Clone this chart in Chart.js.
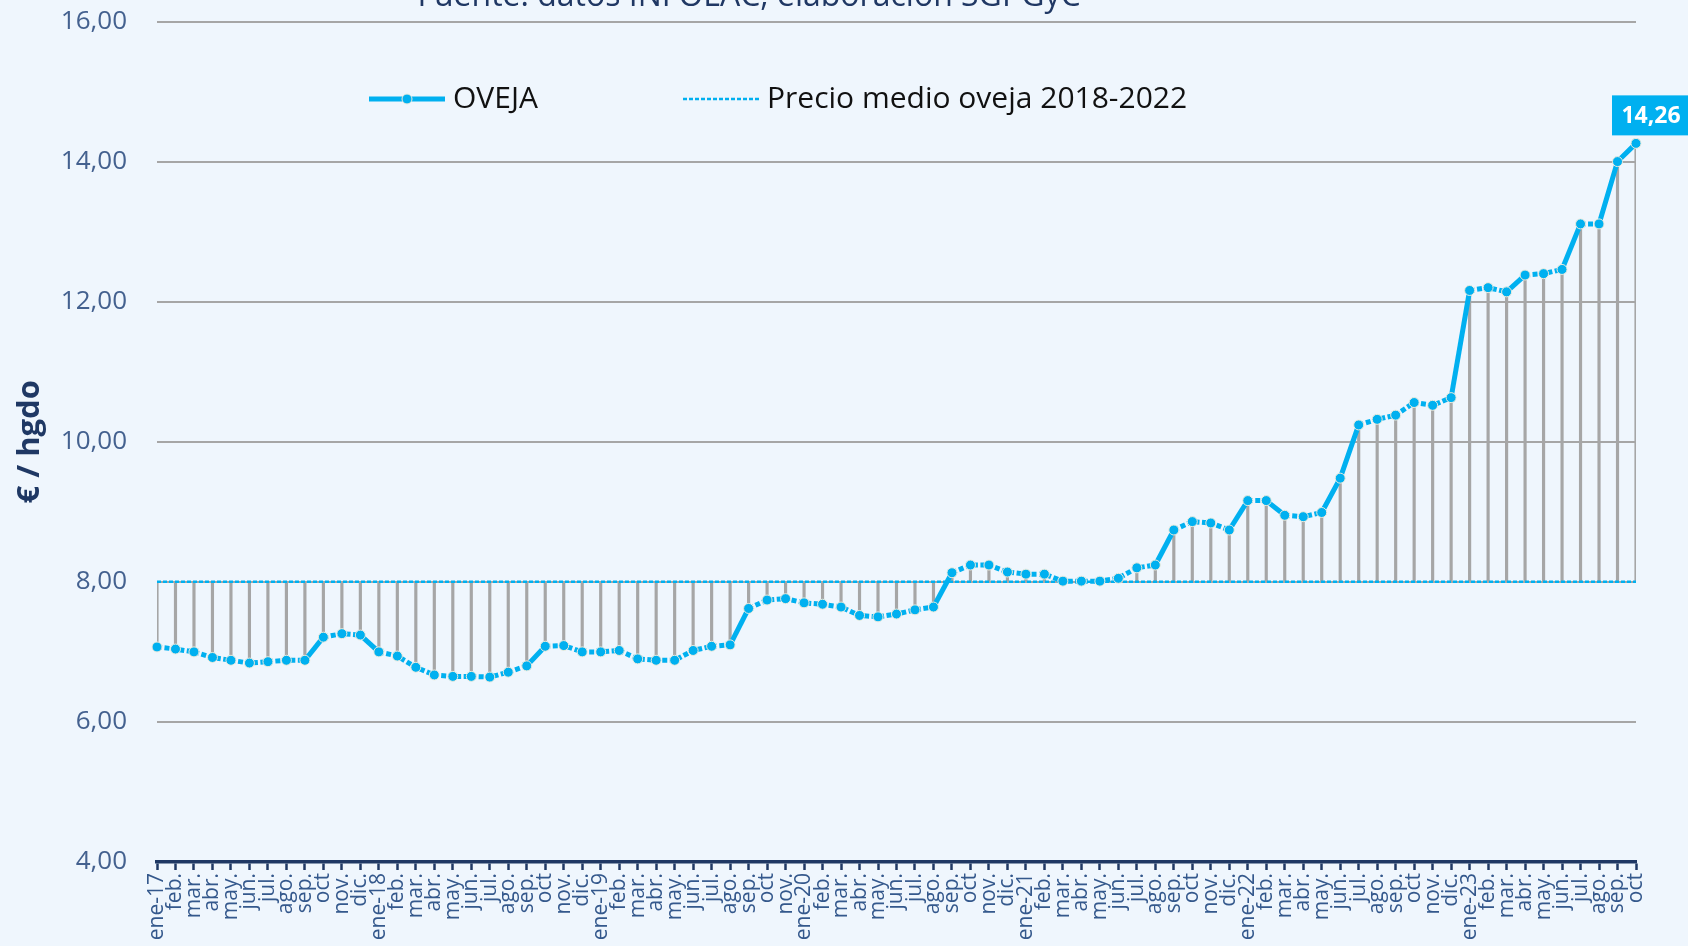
<!DOCTYPE html>
<html>
<head>
<meta charset="utf-8">
<script src="https://cdn.jsdelivr.net/npm/chart.js@4.4.1/dist/chart.umd.min.js"></script>
<style>
  html, body { margin: 0; padding: 0; background: #EFF6FD; }
  canvas { display: block; }
</style>
</head>
<body>
<canvas id="myChart" width="1688" height="946"></canvas>
<script>
// meses ene-17 .. oct-23 (dic-19 no aparece en el original)
var meses = [
    "ene-17", "feb.", "mar.", "abr.", "may.", "jun.", "jul.", "ago.", "sep.", "oct", "nov.", "dic.",
    "ene-18", "feb.", "mar.", "abr.", "may.", "jun.", "jul.", "ago.", "sep.", "oct", "nov.", "dic.",
    "ene-19", "feb.", "mar.", "abr.", "may.", "jun.", "jul.", "ago.", "sep.", "oct", "nov.",
    "ene-20", "feb.", "mar.", "abr.", "may.", "jun.", "jul.", "ago.", "sep.", "oct", "nov.", "dic.",
    "ene-21", "feb.", "mar.", "abr.", "may.", "jun.", "jul.", "ago.", "sep.", "oct", "nov.", "dic.",
    "ene-22", "feb.", "mar.", "abr.", "may.", "jun.", "jul.", "ago.", "sep.", "oct", "nov.", "dic.",
    "ene-23", "feb.", "mar.", "abr.", "may.", "jun.", "jul.", "ago.", "sep.", "oct"
];

var oveja = [
    7.07, 7.04, 7.00, 6.92, 6.88, 6.84, 6.86, 6.88, 6.88, 7.21, 7.26, 7.24,
    7.00, 6.94, 6.78, 6.67, 6.65, 6.65, 6.64, 6.71, 6.80, 7.08, 7.09, 7.00,
    7.00, 7.02, 6.90, 6.88, 6.88, 7.02, 7.08, 7.10, 7.62, 7.74, 7.76,
    7.70, 7.68, 7.64, 7.52, 7.50, 7.54, 7.60, 7.64, 8.13, 8.24, 8.24, 8.14,
    8.11, 8.11, 8.01, 8.01, 8.01, 8.05, 8.20, 8.24, 8.74, 8.86, 8.84, 8.74,
    9.16, 9.16, 8.95, 8.93, 8.99, 9.48, 10.24, 10.32, 10.38, 10.56, 10.52, 10.63,
    12.16, 12.20, 12.14, 12.38, 12.40, 12.46, 13.11, 13.11, 14.00, 14.26
];

var precioMedio = 8.00;   // precio medio oveja 2018-2022
var yTicks = [4, 6, 8, 10, 12, 14, 16];

var azul = "#00B0F0";
var gris = "#A6A6A6";
var navy = "#1F3864";

var media = meses.map(() => precioMedio);
var barras = oveja.map((v, i) => [media[i], v]);

function fmt(v) {
    return v.toFixed(2).replace(".", ",");
}

// texto de cabecera, leyenda y etiqueta del último valor
var extras = {
    id: "extras",
    afterDraw(chart) {
        const ctx = chart.ctx;
        ctx.save();

        ctx.fillStyle = "#203864";
        ctx.font = "32px 'Open Sans'";
        ctx.textAlign = "center";
        ctx.textBaseline = "alphabetic";
        ctx.fillText("Fuente: datos INFOLAC, elaboración SGPGyC", 749, 6);

        // leyenda
        const ly = 99;
        ctx.strokeStyle = azul;
        ctx.lineWidth = 5;
        ctx.beginPath();
        ctx.moveTo(369, ly);
        ctx.lineTo(445, ly);
        ctx.stroke();
        ctx.beginPath();
        ctx.arc(407, ly, 5, 0, Math.PI * 2);
        ctx.fillStyle = azul;
        ctx.fill();
        ctx.lineWidth = 1;
        ctx.strokeStyle = "#EDEBDC";
        ctx.stroke();

        ctx.strokeStyle = azul;
        ctx.lineWidth = 2.5;
        ctx.setLineDash([4, 2]);
        ctx.beginPath();
        ctx.moveTo(683, ly);
        ctx.lineTo(759, ly);
        ctx.stroke();
        ctx.setLineDash([]);

        ctx.fillStyle = "#111111";
        ctx.font = "30px 'Open Sans'";
        ctx.textAlign = "left";
        ctx.textBaseline = "middle";
        ctx.fillText("OVEJA", 453, ly);
        ctx.fillText("Precio medio oveja 2018-2022", 767, ly);

        // último valor
        const meta = chart.getDatasetMeta(0);
        const p = meta.data[meta.data.length - 1];
        const bx = p.x - 24, by = p.y - 48;
        ctx.fillStyle = azul;
        ctx.fillRect(bx, by, 80, 40);
        ctx.fillStyle = "#FFFFFF";
        ctx.font = "bold 23px 'Open Sans'";
        ctx.textAlign = "center";
        ctx.fillText(fmt(oveja[oveja.length - 1]), bx + 39, by + 21);

        ctx.restore();
    }
};

Chart.defaults.font.family = "'Open Sans', sans-serif";

new Chart("myChart", {
    type: "bar",
    data: {
        labels: meses,
        datasets: [{
            type: "line",
            label: "OVEJA",
            data: oveja,
            borderColor: azul,
            borderWidth: 5,
            borderCapStyle: "butt",
            tension: 0,
            pointRadius: 5,
            pointBackgroundColor: azul,
            pointBorderColor: "#EDEBDC",
            pointBorderWidth: 1,
            segment: {
                borderDash: c => Math.abs(c.p1.parsed.y - c.p0.parsed.y) > 0.2 ? [] : [5, 2.5]
            },
            order: 1
        }, {
            type: "line",
            label: "Precio medio oveja 2018-2022",
            data: media,
            borderColor: azul,
            borderWidth: 2.5,
            borderDash: [4, 2],
            pointRadius: 0,
            order: 2
        }, {
            label: "stems",
            data: barras,
            backgroundColor: gris,
            barThickness: 2.5,
            order: 3
        }]
    },
    options: {
        responsive: false,
        animation: false,
        layout: {
            padding: { top: 21.5, right: 52, bottom: 0, left: 0 }
        },
        plugins: {
            legend: { display: false },
            tooltip: { enabled: false }
        },
        scales: {
            x: {
                offset: false,
                grid: {
                    offset: false,
                    drawOnChartArea: false,
                    drawTicks: true,
                    tickLength: 8,
                    tickColor: navy,
                    tickWidth: 2.5
                },
                border: { display: true, color: navy, width: 3.5 },
                ticks: {
                    autoSkip: false,
                    maxRotation: 90,
                    minRotation: 90,
                    padding: 3,
                    color: "#34588C",
                    font: { size: 21 }
                },
                afterFit(s) { s.height = 84; }
            },
            y: {
                min: 4,
                max: 16,
                afterBuildTicks(s) { s.ticks = yTicks.map(v => ({ value: v })); },
                grid: {
                    color: gris,
                    lineWidth: 2,
                    drawTicks: true,
                    tickLength: 30,
                    tickColor: "rgba(0,0,0,0)"
                },
                border: { display: false },
                ticks: {
                    padding: 0,
                    color: "#44618F",
                    font: { size: 26 },
                    callback: v => fmt(v)
                },
                title: {
                    display: true,
                    text: "€ / hgdo",
                    color: navy,
                    font: { size: 31, weight: "bold" },
                    padding: { top: 12, bottom: 0 }
                },
                afterFit(s) { s.width = 157; }
            }
        }
    },
    plugins: [extras]
});
</script>
</body>
</html>
